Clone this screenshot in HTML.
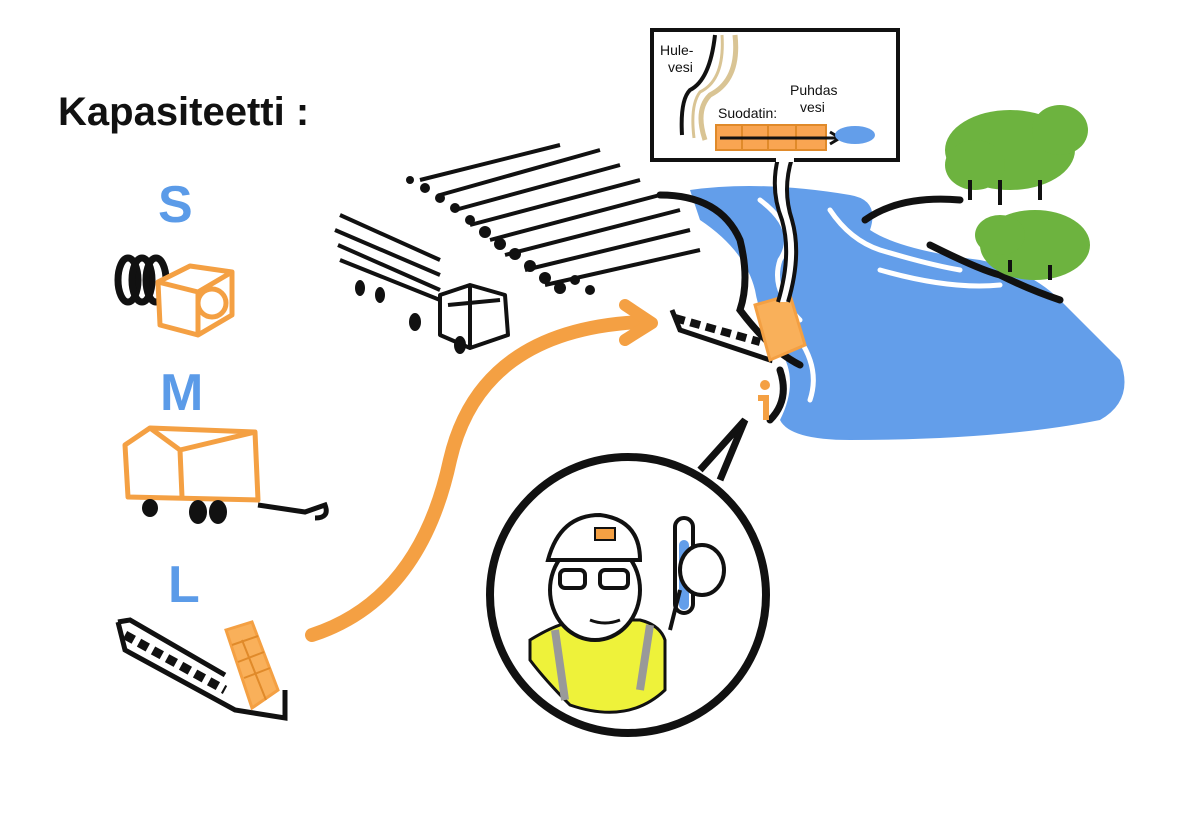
<!DOCTYPE html>
<html><head><meta charset="utf-8"><style>
html,body{margin:0;padding:0;background:#fff;}
svg{display:block}
text{font-family:"Liberation Sans",sans-serif;}
</style></head><body>
<svg width="1200" height="838" viewBox="0 0 1200 838" xmlns="http://www.w3.org/2000/svg">
<rect width="1200" height="838" fill="#fff"/>
<text x="58" y="125" font-size="40" font-weight="bold" fill="#111">Kapasiteetti :</text>
<text x="158" y="222" font-size="52" font-weight="bold" fill="#5b9be8">S</text>
<text x="160" y="410" font-size="52" font-weight="bold" fill="#5b9be8">M</text>
<text x="168" y="602" font-size="52" font-weight="bold" fill="#5b9be8">L</text>
<g stroke="#111" stroke-width="7" fill="none">
<ellipse cx="128" cy="280" rx="10" ry="22"/><ellipse cx="142" cy="280" rx="10" ry="22"/><ellipse cx="156" cy="280" rx="10" ry="22"/>
</g>
<g stroke="#f4a043" stroke-width="5" fill="#fff" stroke-linejoin="round">
<path d="M158 282 L190 266 L232 272 L232 315 L198 335 L160 325 Z"/>
<path d="M158 282 L198 292 L232 272 M198 292 L198 335" fill="none"/>
<circle cx="212" cy="303" r="14"/>
</g>
<g stroke="#f4a043" stroke-width="5" fill="none" stroke-linejoin="round">
<path d="M125 445 L150 428 L255 432 L258 500 L128 497 Z"/>
<path d="M150 428 L180 450 L255 432 M180 450 L182 497"/>
</g>
<g fill="#111"><ellipse cx="150" cy="508" rx="8" ry="9"/><ellipse cx="198" cy="512" rx="9" ry="12"/><ellipse cx="218" cy="512" rx="9" ry="12"/></g>
<path d="M258 505 L305 512 L325 505 Q330 518 315 518" stroke="#111" stroke-width="5" fill="none"/>
<g stroke="#111" stroke-width="5" fill="none">
<path d="M118 622 L125 650 L235 710 L285 718 L285 690"/>
<path d="M118 622 L130 620 L225 675"/>
</g>
<path d="M125 635 L225 690" stroke="#111" stroke-width="9" stroke-dasharray="10 6"/>
<path d="M226 630 L252 622 L278 690 L252 708 Z" stroke="#f4a043" stroke-width="3" fill="#f9b05a"/>
<g stroke="#e08a2a" stroke-width="2"><path d="M232 645 L258 636 M238 662 L264 652 M244 678 L270 668 M242 640 L266 700"/></g>
<path d="M312 635 Q420 600 450 460 Q480 330 640 322" stroke="#f4a043" stroke-width="14" fill="none" stroke-linecap="round"/>
<path d="M625 305 L652 323 L625 340" stroke="#f4a043" stroke-width="12" fill="none" stroke-linecap="round" stroke-linejoin="round"/>
<g stroke="#111" stroke-width="4" fill="none">
<path d="M420 180 L560 145 M440 195 L600 150 M455 210 L620 165 M470 225 L640 180 M490 240 L660 195 M505 255 L680 210 M525 270 L690 230 M545 285 L700 250"/>
</g>
<g fill="#111">
<circle cx="410" cy="180" r="4"/><circle cx="425" cy="188" r="5"/><circle cx="440" cy="198" r="5"/><circle cx="455" cy="208" r="5"/><circle cx="470" cy="220" r="5"/><circle cx="485" cy="232" r="6"/><circle cx="500" cy="244" r="6"/><circle cx="515" cy="254" r="6"/><circle cx="530" cy="266" r="6"/><circle cx="545" cy="278" r="6"/><circle cx="560" cy="288" r="6"/><circle cx="575" cy="280" r="5"/><circle cx="590" cy="290" r="5"/>
</g>
<g stroke="#111" stroke-width="4" fill="none" stroke-linejoin="round">
<path d="M340 215 L440 260 M335 230 L440 275 M338 245 L440 290 M340 260 L440 300"/>
<path d="M440 295 L470 285 L505 295 L508 335 L470 348 L440 335 Z"/>
<path d="M470 285 L470 348 M448 305 L500 300"/>
</g>
<g fill="#111"><ellipse cx="360" cy="288" rx="5" ry="8"/><ellipse cx="380" cy="295" rx="5" ry="8"/><ellipse cx="415" cy="322" rx="6" ry="9"/><ellipse cx="460" cy="345" rx="6" ry="9"/></g>
<path d="M690 190 Q760 180 850 195 Q880 200 870 230 Q900 250 980 260 Q1030 270 1060 300 Q1090 330 1120 360 Q1135 400 1100 420 Q1000 440 850 440 Q790 440 780 420 Q800 380 780 350 Q760 320 755 290 Q745 250 700 220 Z" fill="#639eea"/>
<g stroke="#fff" stroke-width="5" fill="none" stroke-linecap="round">
<path d="M760 200 Q800 230 780 260 Q770 290 800 320"/>
<path d="M830 210 Q850 240 880 250 Q930 265 960 270"/>
<path d="M800 340 Q820 370 810 400"/>
<path d="M880 270 Q950 290 1000 285"/>
</g>
<g stroke="#111" stroke-width="7" fill="none" stroke-linecap="round">
<path d="M660 195 Q720 195 740 240 Q750 280 740 310 Q770 350 800 365"/>
<path d="M865 220 Q900 195 960 200 M930 245 Q980 270 1000 275 Q1030 290 1060 300"/>
<path d="M780 370 Q790 400 770 420"/>
</g>
<g fill="#6db33f">
<ellipse cx="1010" cy="150" rx="65" ry="40"/><ellipse cx="975" cy="165" rx="30" ry="25"/><ellipse cx="1060" cy="130" rx="28" ry="25"/>
<ellipse cx="1035" cy="245" rx="55" ry="35"/><ellipse cx="1000" cy="235" rx="25" ry="20"/>
</g>
<g stroke="#111" stroke-width="4"><path d="M970 180 L970 200 M1000 180 L1000 205 M1040 180 L1040 200 M1010 260 L1010 272 M1050 265 L1050 280"/></g>
<path d="M672 310 L680 330 L770 360 L775 330" stroke="#111" stroke-width="5" fill="none"/>
<path d="M675 318 L760 342" stroke="#111" stroke-width="8" stroke-dasharray="10 6"/>
<path d="M755 305 L790 295 L805 345 L770 360 Z" fill="#f9b05a" stroke="#f4a043" stroke-width="3"/>
<circle cx="765" cy="385" r="5" fill="#f4a043"/>
<path d="M758 398 L766 398 L766 420" stroke="#f4a043" stroke-width="6" fill="none"/>
<!-- inset tail -->
<path d="M778 158 Q770 190 782 220 Q792 255 778 302 L788 302 Q802 255 792 220 Q782 190 792 158 Z" fill="#fff"/>
<path d="M778 158 Q770 190 782 220 Q792 255 778 302 M792 158 Q782 190 792 220 Q802 255 788 302" stroke="#111" stroke-width="4" fill="none"/>
<rect x="652" y="30" width="246" height="130" stroke="#111" stroke-width="4" fill="#fff"/>
<rect x="776" y="156" width="18" height="6" fill="#fff"/>
<path d="M715 35 Q710 80 690 90 Q680 100 682 135" stroke="#111" stroke-width="4" fill="none"/>
<path d="M735 35 Q740 80 710 95 Q695 110 705 140" stroke="#d9c494" stroke-width="5" fill="none"/>
<path d="M722 35 Q725 80 700 92 Q690 105 694 138" stroke="#d9c494" stroke-width="3" fill="none"/>
<text x="660" y="55" font-size="14" fill="#111">Hule-</text>
<text x="668" y="72" font-size="14" fill="#111">vesi</text>
<text x="790" y="95" font-size="14" fill="#111">Puhdas</text>
<text x="800" y="112" font-size="14" fill="#111">vesi</text>
<text x="718" y="118" font-size="14" fill="#111">Suodatin:</text>
<rect x="716" y="125" width="110" height="25" fill="#f9a552" stroke="#e08a2a" stroke-width="2"/>
<path d="M742 125 V150 M768 125 V150 M796 125 V150" stroke="#e08a2a" stroke-width="2"/>
<path d="M720 138 L838 138" stroke="#111" stroke-width="3"/>
<path d="M830 132 L840 138 L830 144" stroke="#111" stroke-width="3" fill="none"/>
<ellipse cx="855" cy="135" rx="20" ry="9" fill="#639eea"/>
<path d="M700 470 L745 420 L720 480" stroke="#111" stroke-width="7" fill="#fff"/>
<circle cx="628" cy="595" r="138" fill="#fff" stroke="#111" stroke-width="8"/>
<path d="M530 640 Q570 615 600 620 L640 620 Q660 625 665 640 L665 690 Q628 725 570 705 Q545 680 530 660 Z" fill="#eef23a" stroke="#111" stroke-width="3"/>
<path d="M555 630 L565 700 M650 625 L640 690" stroke="#999" stroke-width="8"/>
<ellipse cx="595" cy="590" rx="45" ry="50" fill="#fff" stroke="#111" stroke-width="4"/>
<path d="M548 560 Q560 515 600 515 Q640 520 640 560 Z" fill="#fff" stroke="#111" stroke-width="4"/>
<rect x="595" y="528" width="20" height="12" fill="#f4a043" stroke="#111" stroke-width="2"/>
<g stroke="#111" stroke-width="4" fill="none"><rect x="560" y="570" width="25" height="18" rx="5"/><rect x="600" y="570" width="28" height="18" rx="5"/></g>
<path d="M590 620 Q605 626 620 620" stroke="#111" stroke-width="3" fill="none"/>
<rect x="675" y="518" width="18" height="95" rx="9" fill="#fff" stroke="#111" stroke-width="4"/>
<rect x="679" y="540" width="10" height="70" rx="5" fill="#639eea"/>
<ellipse cx="702" cy="570" rx="22" ry="25" fill="#fff" stroke="#111" stroke-width="4"/>
<path d="M680 590 L670 630" stroke="#111" stroke-width="4"/>
</svg>
</body></html>
